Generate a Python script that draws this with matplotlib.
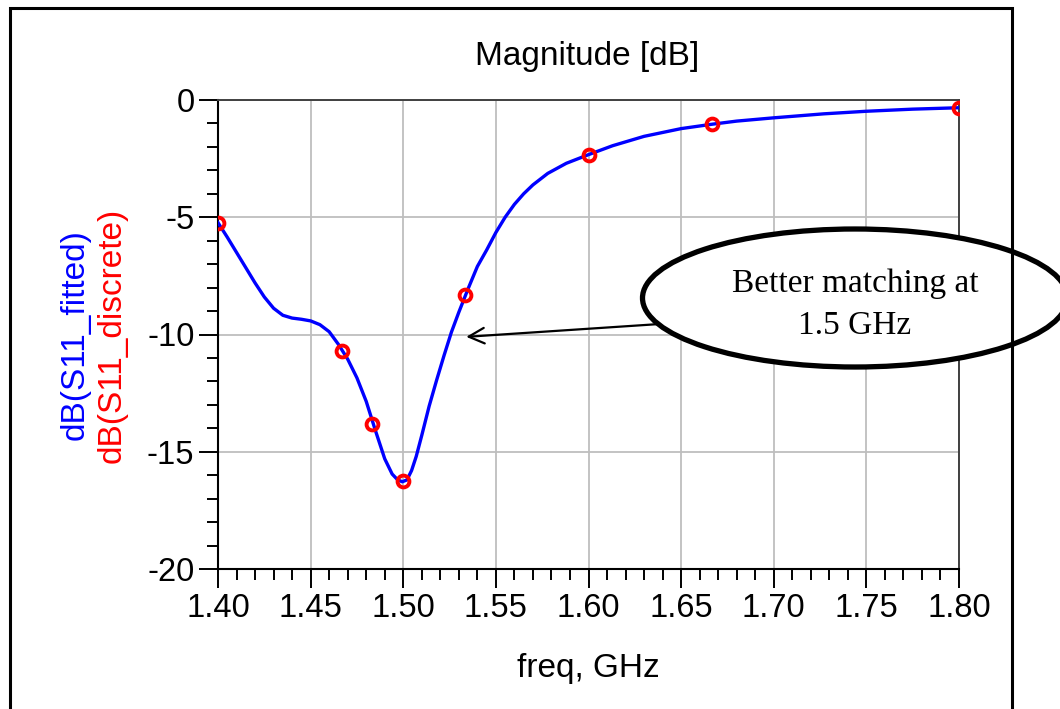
import matplotlib
matplotlib.use("Agg")
import matplotlib.pyplot as plt
from matplotlib.patches import Ellipse, Rectangle
from matplotlib.ticker import MultipleLocator

# Values
freq_fit = [1.400, 1.405, 1.410, 1.415, 1.420, 1.425, 1.430, 1.435, 1.440,
            1.445, 1.450, 1.455, 1.460, 1.465, 1.470, 1.475, 1.480, 1.485,
            1.490, 1.494, 1.497, 1.4995, 1.502, 1.5045, 1.507, 1.510, 1.514,
            1.518, 1.522, 1.526, 1.530, 1.535, 1.540, 1.545, 1.550, 1.555,
            1.560, 1.565, 1.570, 1.578, 1.588, 1.600, 1.613, 1.630, 1.650,
            1.667, 1.680, 1.700, 1.727, 1.750, 1.775, 1.800]
s11_fit = [-5.23, -5.85, -6.50, -7.15, -7.80, -8.40, -8.88, -9.18, -9.30,
           -9.35, -9.42, -9.58, -9.88, -10.42, -11.05, -11.85, -12.85, -14.1,
           -15.3, -15.95, -16.2, -16.28, -16.2, -15.8, -15.2, -14.3, -13.05,
           -11.95, -10.9, -9.9, -9.05, -8.05, -7.1, -6.4, -5.65, -5.0,
           -4.45, -4.0, -3.62, -3.13, -2.70, -2.33, -1.95, -1.55, -1.22,
           -1.03, -0.9, -0.76, -0.59, -0.48, -0.39, -0.33]

freq_disc = [1.400, 1.4667, 1.4833, 1.500, 1.5333, 1.600, 1.6667, 1.800]
s11_disc = [-5.25, -10.72, -13.8, -16.25, -8.3, -2.35, -1.02, -0.33]

xticks = [1.40, 1.45, 1.50, 1.55, 1.60, 1.65, 1.70, 1.75, 1.80]
yticks = [-20, -15, -10, -5, 0]

plt.rcParams['font.family'] = ['Liberation Sans', 'DejaVu Sans']
plt.rcParams['axes.unicode_minus'] = False

W, H = 1060, 709
fig = plt.figure(figsize=(W / 100, H / 100), dpi=100, facecolor='white')
ax = fig.add_axes([218 / W, 1 - 569 / H, (959 - 218) / W, (569 - 100) / H])

ax.plot(freq_fit, s11_fit, color='#0000ff', lw=2.4, zorder=3)
ax.plot(freq_disc, s11_disc, ls='none', marker='o', ms=8.5, mfc='none',
        mec='#ff0000', mew=2.8, zorder=4)

ax.set_xlim(1.40, 1.80)
ax.set_ylim(-20, 0)
ax.set_xticks(xticks)
ax.set_xticklabels(['%.2f' % t for t in xticks])
ax.set_yticks(yticks)
ax.set_yticklabels([str(t) for t in yticks])
ax.xaxis.set_minor_locator(MultipleLocator(0.01))
ax.yaxis.set_minor_locator(MultipleLocator(1))
ax.tick_params(which='major', direction='out', length=14, width=1.4,
               labelsize=23.5, pad=3, color='black')
ax.tick_params(which='minor', direction='out', length=8, width=1.4,
               color='black')
ax.tick_params(top=False, right=False, which='both')
ax.grid(True, which='major', color='#bebebe', lw=1.3, zorder=0)

for side in ['left', 'bottom']:
    ax.spines[side].set_linewidth(1.5)
    ax.spines[side].set_color('black')
for side in ['top', 'right']:
    ax.spines[side].set_linewidth(1.4)
    ax.spines[side].set_color('#404040')

fig.text(587 / W, 1 - 57 / H, 'Magnitude [dB]', ha='center', va='center',
         fontsize=24)
fig.text(588 / W, 1 - 668 / H, 'freq, GHz', ha='center', va='center',
         fontsize=24)
fig.text(75 / W, 1 - 335 / H, 'dB(S11_fitted)', rotation=90, color='#0000ff',
         ha='center', va='center', fontsize=24)
fig.text(112 / W, 1 - 335 / H, 'dB(S11_discrete)', rotation=90,
         color='#ff0000', ha='center', va='center', fontsize=24)

# callout
ax.annotate('', xy=(1.534, -10.1), xycoords='data',
            xytext=(660 / W, 1 - 324 / H), textcoords='figure fraction',
            arrowprops=dict(arrowstyle='->', color='black', lw=1.6,
                            mutation_scale=28, shrinkA=0, shrinkB=0),
            zorder=5, annotation_clip=False)
ell = Ellipse((855 / W, 1 - 298 / H), 425 / W, 138 / H,
              transform=fig.transFigure, facecolor='white', edgecolor='black',
              lw=3.8, zorder=6)
fig.add_artist(ell)
fig.text(855 / W, 1 - 305 / H, 'Better matching at\n1.5 GHz', ha='center',
         va='center', fontsize=24, linespacing=1.5, zorder=7,
         family=['Liberation Serif', 'DejaVu Serif'])

# outer frame
frame = Rectangle((10 / W, -0.05), (1012 - 10) / W, 1.05 - 8 / H,
                  transform=fig.transFigure, fill=False, edgecolor='black',
                  lw=2.2, zorder=8)
fig.add_artist(frame)

fig.savefig('out.png', dpi=100, facecolor='white')
